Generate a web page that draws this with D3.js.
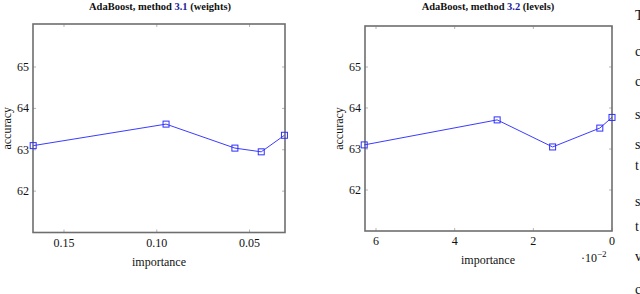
<!DOCTYPE html>
<html>
<head>
<meta charset="utf-8">
<script src="https://cdn.jsdelivr.net/npm/d3@7"></script>
<style>
  body { margin: 0; background: #fff; overflow: hidden; }
  svg text { font-family: "Liberation Serif", "Times New Roman", serif; fill: #111; }
  .frame { fill: none; stroke: #6e6e6e; stroke-width: 1.6; }
  .tick line { stroke: #b5b5b5; }
</style>
</head>
<body>
<div class="chart"></div>
<script>
// left panel: method 3.1 (weights)
var weightsImportance = [0.1666, 0.0950, 0.0579, 0.0437, 0.0312];
var weightsAccuracy = [63.10, 63.62, 63.04, 62.95, 63.35];
// right panel: method 3.2 (levels), importance in units of 10^-2
var levelsImportance = [6.30, 2.92, 1.51, 0.31, 0.0];
var levelsAccuracy = [63.10, 63.71, 63.05, 63.51, 63.77];

var yTicks = [62, 63, 64, 65];
var weightsTicks = [0.15, 0.10, 0.05];
var levelsTicks = [6, 4, 2, 0];

// letters of the neighbouring text column, cut by the page edge
var edgeLetters = ["T", "c", "c", "s", "s", "t", "s", "t", "v", "c"];
var edgeRows = [20, 56, 86, 119, 149, 170, 206, 231, 261, 294];

var width = 640, height = 294;
var svg = d3.select(".chart").append("svg")
	.attr("width", width)
	.attr("height", height);

function drawPanel(opt) {
	var g = svg.append("g");
	var x = d3.scaleLinear().domain(opt.xDomain).range([opt.left, opt.right]);
	var y = d3.scaleLinear().domain(opt.yDomain).range([opt.bottom, opt.top]);
	var tl = 3;

	// ticks inside on all sides
	g.append("g").attr("class", "tick")
		.selectAll("line").data(opt.xTicks).enter().append("line")
		.attr("x1", d => x(d)).attr("x2", d => x(d))
		.attr("y1", opt.bottom).attr("y2", opt.bottom - tl);
	g.append("g").attr("class", "tick")
		.selectAll("line").data(opt.xTicks).enter().append("line")
		.attr("x1", d => x(d)).attr("x2", d => x(d))
		.attr("y1", opt.top).attr("y2", opt.top + tl);
	g.append("g").attr("class", "tick")
		.selectAll("line").data(yTicks).enter().append("line")
		.attr("x1", opt.left).attr("x2", opt.left + tl)
		.attr("y1", d => y(d)).attr("y2", d => y(d));
	g.append("g").attr("class", "tick")
		.selectAll("line").data(yTicks).enter().append("line")
		.attr("x1", opt.right).attr("x2", opt.right - tl)
		.attr("y1", d => y(d)).attr("y2", d => y(d));

	g.append("rect").attr("class", "frame")
		.attr("x", opt.left).attr("y", opt.top)
		.attr("width", opt.right - opt.left).attr("height", opt.bottom - opt.top);

	g.selectAll("text.xt").data(opt.xTicks).enter().append("text")
		.attr("class", "xt")
		.attr("x", d => x(d)).attr("y", opt.bottom + 14)
		.attr("text-anchor", "middle").style("font-size", "12px")
		.text(opt.xFormat);
	g.selectAll("text.yt").data(yTicks).enter().append("text")
		.attr("class", "yt")
		.attr("x", opt.left - 4).attr("y", d => y(d) + 4)
		.attr("text-anchor", "end").style("font-size", "12px")
		.text(d => d);

	var pts = opt.xs.map((d, i) => [d, opt.ys[i]]);
	var line = d3.line().x(d => x(d[0])).y(d => y(d[1]));
	g.append("path").datum(pts)
		.attr("d", line)
		.attr("fill", "none").attr("stroke", "#3b3bff").attr("stroke-width", 1);
	var s = 6;
	g.selectAll("rect.m").data(pts).enter().append("rect")
		.attr("class", "m")
		.attr("x", d => x(d[0]) - s / 2).attr("y", d => y(d[1]) - s / 2)
		.attr("width", s).attr("height", s)
		.attr("fill", "none").attr("stroke", "#2f2fff").attr("stroke-width", 1);

	var title = g.append("text").attr("x", opt.titleX).attr("y", 10)
		.attr("text-anchor", "middle").style("font-size", "10.5px").style("font-weight", "bold");
	title.append("tspan").text("AdaBoost, method ");
	title.append("tspan").style("fill", "#1c1c9a").text(opt.ref);
	title.append("tspan").text(" (" + opt.kind + ")");

	g.append("text").attr("x", opt.xLabelX).attr("y", opt.bottom + 33)
		.attr("text-anchor", "middle").style("font-size", "12px").text("importance");
	g.append("text")
		.attr("transform", "translate(" + (opt.left - 22) + "," + ((opt.top + opt.bottom) / 2) + ") rotate(-90)")
		.attr("text-anchor", "middle").style("font-size", "12px").text("accuracy");
}

drawPanel({
	left: 33, right: 285, top: 24, bottom: 232.5,
	xDomain: [0.1667, 0.0309], yDomain: [61.0, 66.04],
	xTicks: weightsTicks, xFormat: d => d.toFixed(2),
	xs: weightsImportance, ys: weightsAccuracy,
	ref: "3.1", kind: "weights", titleX: 160, xLabelX: 159
});

drawPanel({
	left: 365, right: 612, top: 26, bottom: 231,
	xDomain: [6.28, 0], yDomain: [61.0, 66.0],
	xTicks: levelsTicks, xFormat: d => d,
	xs: levelsImportance, ys: levelsAccuracy,
	ref: "3.2", kind: "levels", titleX: 488, xLabelX: 488
});

var sc = svg.append("text").attr("x", 581).attr("y", 262).style("font-size", "12px");
sc.append("tspan").text("\u00b710");
sc.append("tspan").attr("dy", -5).style("font-size", "9px").text("\u22122");

svg.selectAll("text.edge").data(edgeLetters).enter().append("text")
	.attr("class", "edge")
	.attr("x", 635).attr("y", (d, i) => edgeRows[i])
	.style("font-size", "14px").text(d => d);
</script>
</body>
</html>
